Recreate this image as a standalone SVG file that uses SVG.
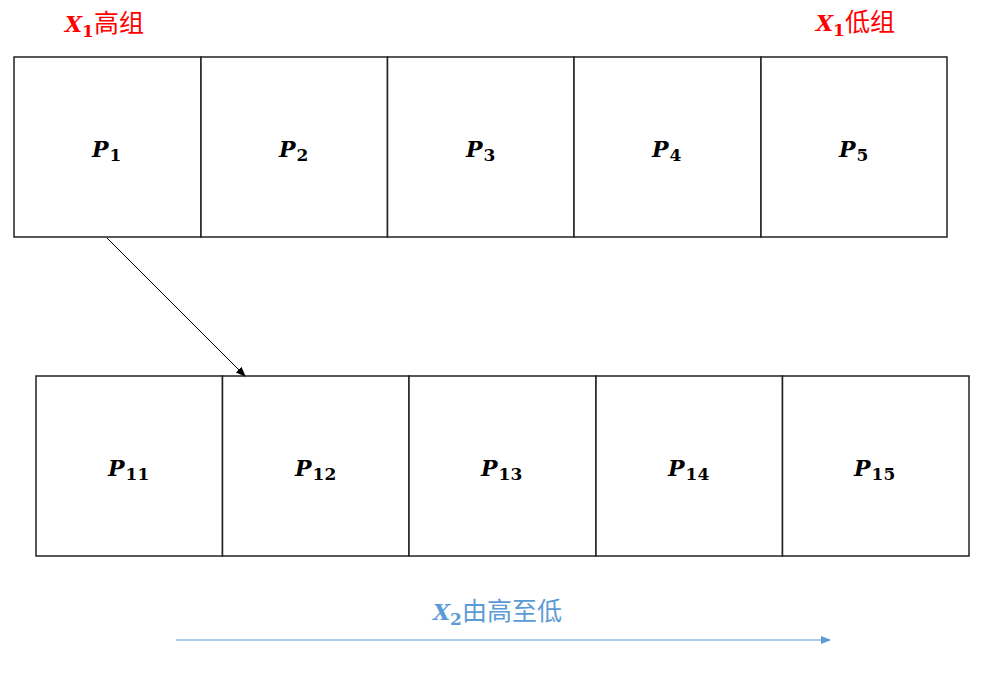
<svg xmlns="http://www.w3.org/2000/svg" width="992" height="676" viewBox="0 0 992 676">
<style>
.cell{fill:#fff;stroke:#222;stroke-width:1.5}
.p{font-family:"DejaVu Serif","Liberation Serif",serif;font-weight:bold;font-style:italic;font-size:22px;fill:#000}
.sub{font-family:"DejaVu Serif","Liberation Serif",serif;font-weight:bold;font-style:normal;font-size:17px}
.lbl{font-family:"Noto Sans CJK SC",sans-serif;font-size:25px;font-weight:normal;font-style:normal}
.x{font-family:"DejaVu Serif","Liberation Serif",serif;font-weight:bold;font-style:italic;font-size:22px}
</style>
<defs>
<marker id="ak" markerWidth="10" markerHeight="8" refX="9" refY="4" orient="auto" markerUnits="userSpaceOnUse">
<path d="M0,0 L10,4 L0,8 Z" fill="#000"/>
</marker>
<marker id="ab" markerWidth="10" markerHeight="8" refX="9" refY="4" orient="auto" markerUnits="userSpaceOnUse">
<path d="M0,0 L10,4 L0,8 Z" fill="#5B9BD5"/>
</marker>
</defs>
<g id="label-high"><text x="65" y="32" fill="#f00"><tspan class="x">X</tspan><tspan class="sub" dx="0" dy="5">1</tspan><tspan class="lbl" dy="-5">高组</tspan></text></g>
<g id="label-low"><text x="816" y="31" fill="#f00"><tspan class="x">X</tspan><tspan class="sub" dx="0" dy="5">1</tspan><tspan class="lbl" dy="-5">低组</tspan></text></g>
<g id="P1"><rect class="cell" x="14" y="57" width="187" height="180"/><text class="p" x="92" y="157">P<tspan class="sub" dx="1" dy="4">1</tspan></text></g>
<g id="P2"><rect class="cell" x="201" y="57" width="186.5" height="180"/><text class="p" x="279" y="157">P<tspan class="sub" dx="1" dy="4">2</tspan></text></g>
<g id="P3"><rect class="cell" x="387.5" y="57" width="186.5" height="180"/><text class="p" x="466" y="157">P<tspan class="sub" dx="1" dy="4">3</tspan></text></g>
<g id="P4"><rect class="cell" x="574" y="57" width="187" height="180"/><text class="p" x="652" y="157">P<tspan class="sub" dx="1" dy="4">4</tspan></text></g>
<g id="P5"><rect class="cell" x="761" y="57" width="186" height="180"/><text class="p" x="839" y="157">P<tspan class="sub" dx="1" dy="4">5</tspan></text></g>
<g id="P11"><rect class="cell" x="36" y="376" width="186.5" height="180"/><text class="p" x="108" y="476">P<tspan class="sub" dx="1" dy="4">11</tspan></text></g>
<g id="P12"><rect class="cell" x="222.5" y="376" width="186.5" height="180"/><text class="p" x="295" y="476">P<tspan class="sub" dx="1" dy="4">12</tspan></text></g>
<g id="P13"><rect class="cell" x="409" y="376" width="187" height="180"/><text class="p" x="481" y="476">P<tspan class="sub" dx="1" dy="4">13</tspan></text></g>
<g id="P14"><rect class="cell" x="596" y="376" width="186.5" height="180"/><text class="p" x="668" y="476">P<tspan class="sub" dx="1" dy="4">14</tspan></text></g>
<g id="P15"><rect class="cell" x="782.5" y="376" width="186.5" height="180"/><text class="p" x="854" y="476">P<tspan class="sub" dx="1" dy="4">15</tspan></text></g>
<g id="label-x2"><text x="433" y="620" fill="#5B9BD5"><tspan class="x">X</tspan><tspan class="sub" dx="0" dy="5">2</tspan><tspan class="lbl" dy="-5">由高至低</tspan></text></g>
<g id="connectors">
<line x1="107" y1="238" x2="245" y2="376" stroke="#000" stroke-width="1" marker-end="url(#ak)"/>
<line x1="176" y1="640" x2="830" y2="640" stroke="#5B9BD5" stroke-width="1.2" marker-end="url(#ab)"/>
</g>
</svg>
